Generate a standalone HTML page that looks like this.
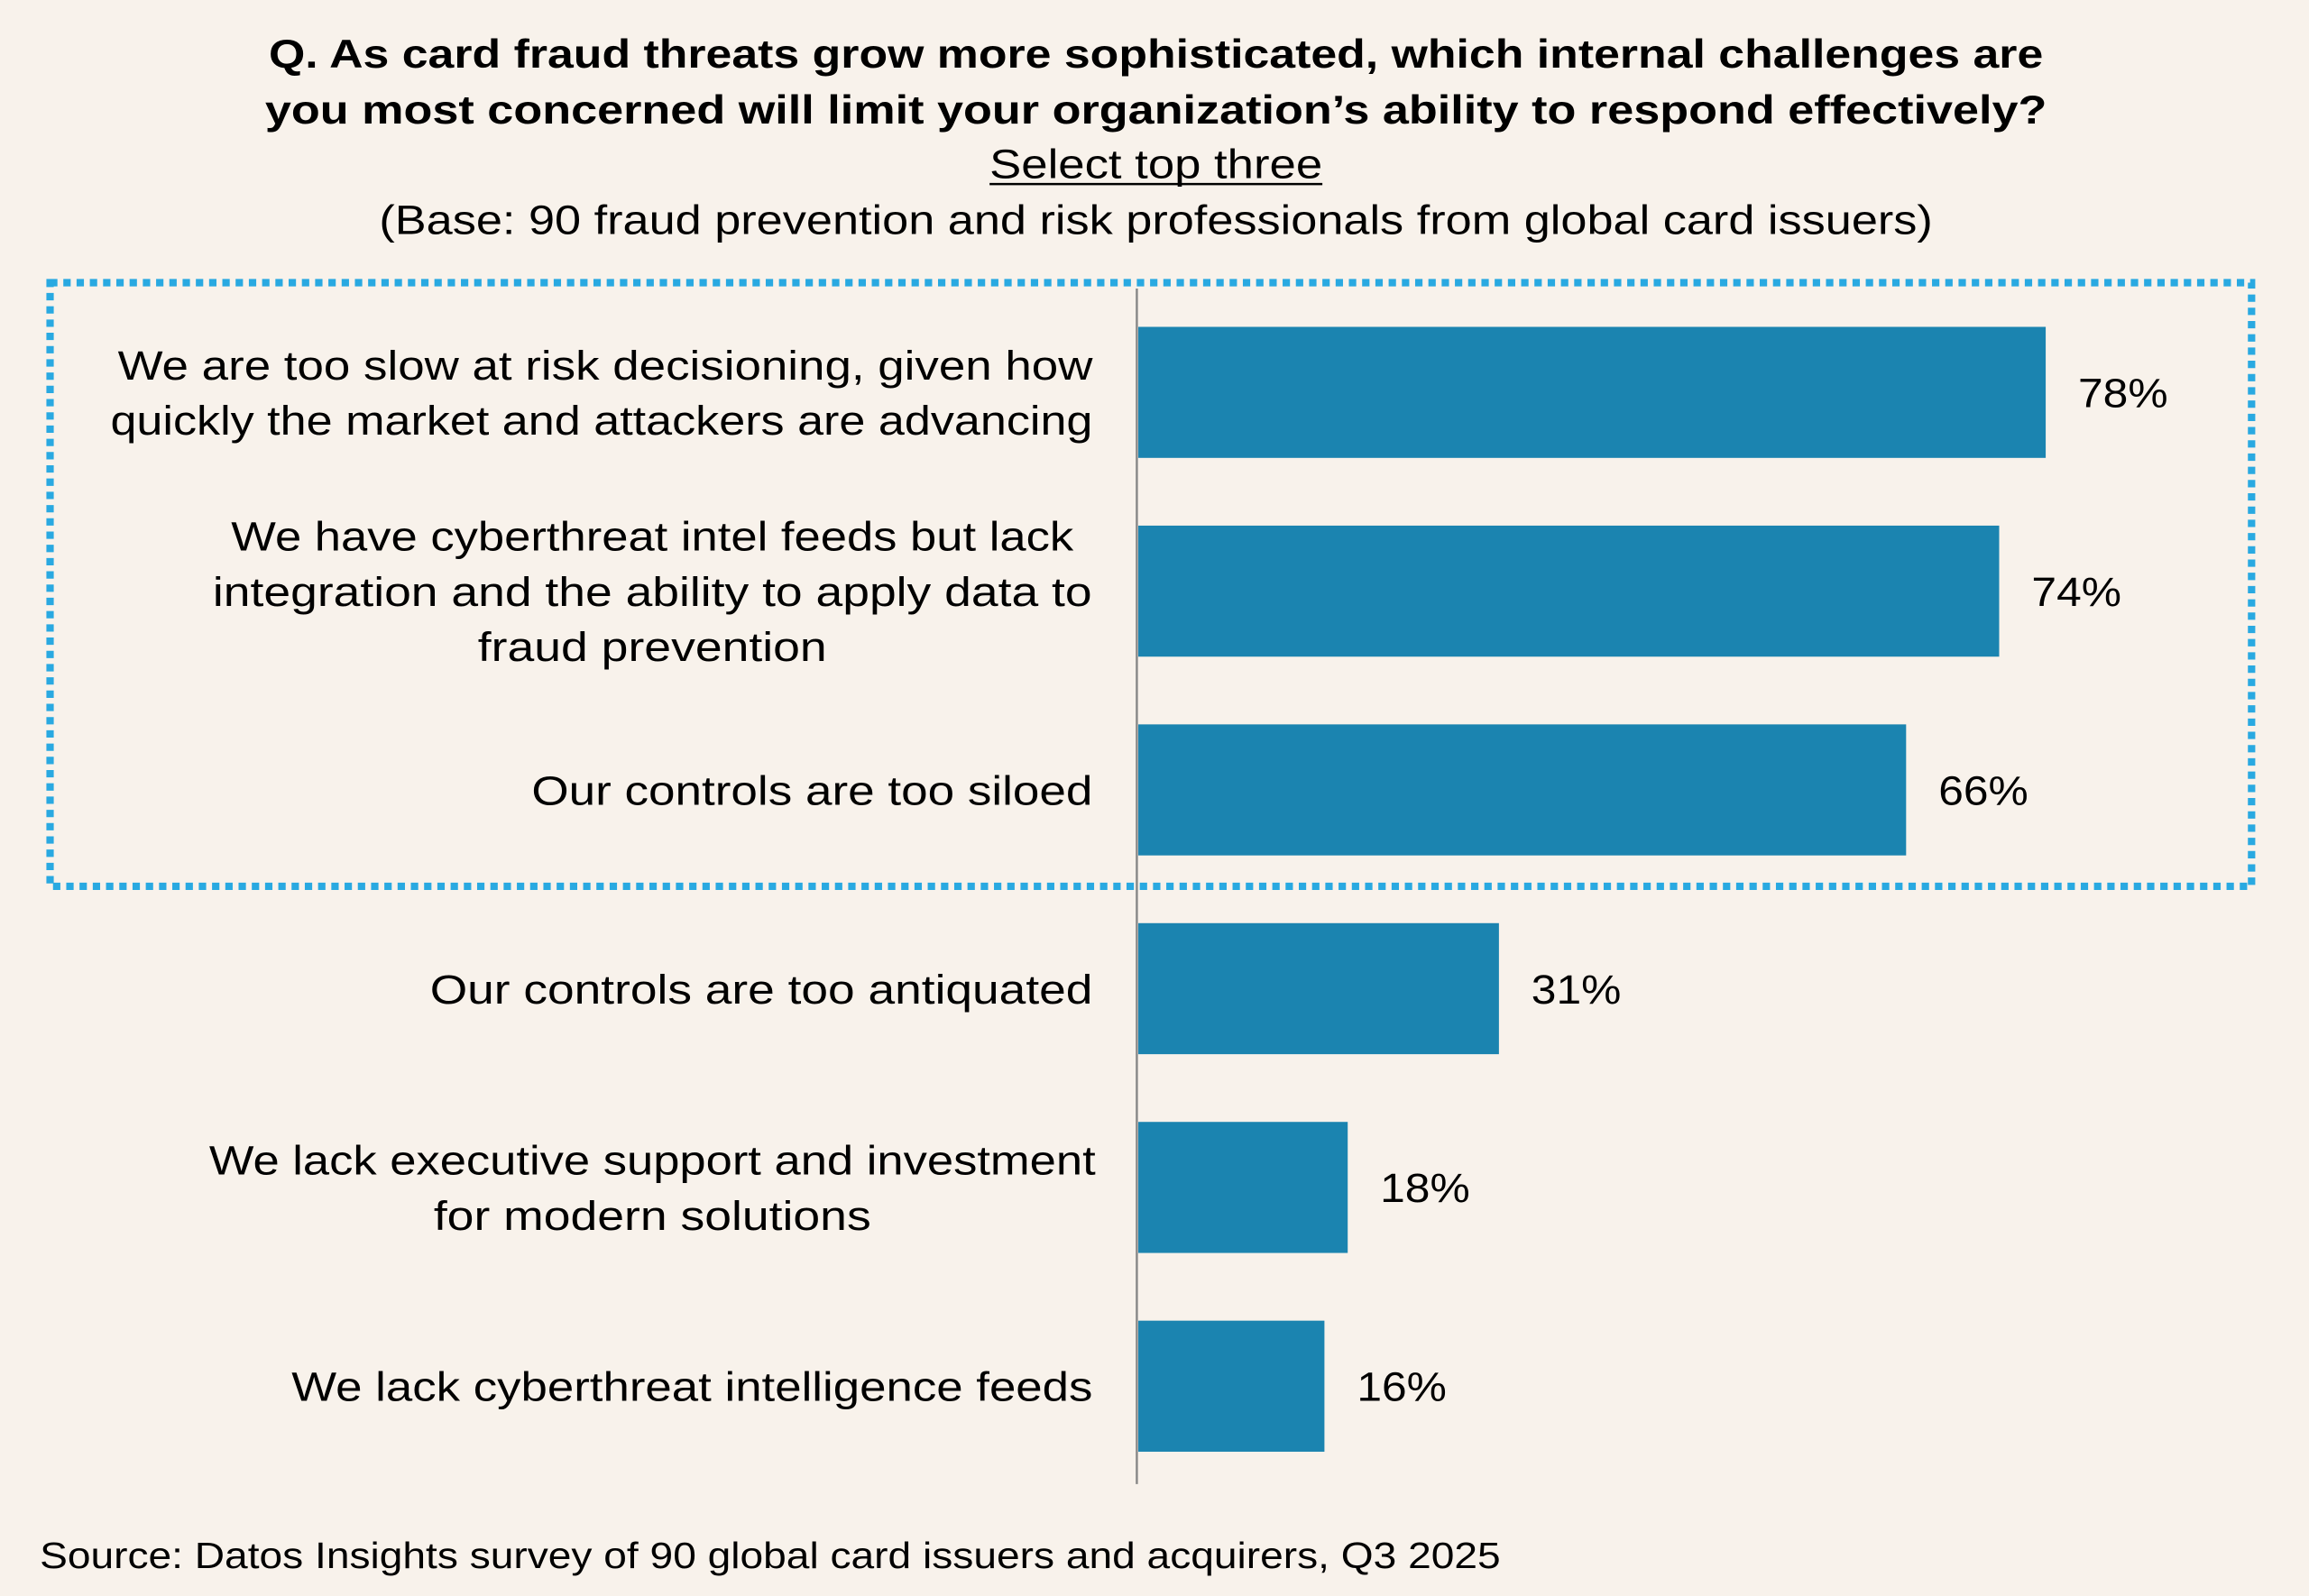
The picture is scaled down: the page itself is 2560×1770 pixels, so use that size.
<!DOCTYPE html>
<html><head><meta charset="utf-8"><style>
html,body{margin:0;padding:0;background:#f8f2eb;}
svg{display:block;font-family:"Liberation Sans",sans-serif;}
</style></head><body>
<svg id="chart" width="2560" height="1770" viewBox="0 0 1568 1084" preserveAspectRatio="none" xmlns="http://www.w3.org/2000/svg">
<rect x="0" y="0" width="1568" height="1084" fill="#f8f2eb"/>
<g text-anchor="middle" fill="#000">
<text x="785" y="46" font-size="27" font-weight="bold" textLength="1205" lengthAdjust="spacingAndGlyphs">Q. As card fraud threats grow more sophisticated, which internal challenges are</text>
<text x="785" y="84" font-size="27" font-weight="bold" textLength="1210" lengthAdjust="spacingAndGlyphs">you most concerned will limit your organization’s ability to respond effectively?</text>
<text x="785" y="121" font-size="28" textLength="226" lengthAdjust="spacingAndGlyphs">Select top three</text>
<line x1="672" y1="125" x2="898" y2="125" stroke="#000" stroke-width="1.5"/>
<text x="785" y="159" font-size="28" textLength="1055" lengthAdjust="spacingAndGlyphs">(Base: 90 fraud prevention and risk professionals from global card issuers)</text>
</g>
<rect x="34" y="192" width="1495" height="410" fill="none" stroke="#29a9e1" stroke-width="5" stroke-dasharray="5 4"/>
<g id="bars"></g>
<line x1="772" y1="196" x2="772" y2="1008" stroke="#888" stroke-width="1.5"/>
<text x="27" y="1065" font-size="25" fill="#000" textLength="992" lengthAdjust="spacingAndGlyphs">Source: Datos Insights survey of 90 global card issuers and acquirers, Q3 2025</text>
</svg>
<script>
const categories = [
  ["We are too slow at risk decisioning, given how","quickly the market and attackers are advancing"],
  ["We have cyberthreat intel feeds but lack","integration and the ability to apply data to","fraud prevention"],
  ["Our controls are too siloed"],
  ["Our controls are too antiquated"],
  ["We lack executive support and investment","for modern solutions"],
  ["We lack cyberthreat intelligence feeds"]
];
const values = [78, 74, 66, 31, 18, 16];
const valueLabels = ["78%","74%","66%","31%","18%","16%"];

// layout/styling (not data)
const lineWidths = [[662,667],[572,597,237],[381],[450],[602,297],[544]];
const centered = [false, true, false, false, true, false];

const NS = "http://www.w3.org/2000/svg";
const g = document.getElementById("bars");
const x0 = 773, pxPer = 7.9;
const xScale = v => x0 + v * pxPer;
const yBand = i => 222 + i * 135;
const bandH = 89;
values.forEach((v, i) => {
  const r = document.createElementNS(NS, "rect");
  r.setAttribute("x", x0);
  r.setAttribute("y", yBand(i));
  r.setAttribute("width", xScale(v) - x0);
  r.setAttribute("height", bandH);
  r.setAttribute("fill", "#1b84b0");
  
  
  g.appendChild(r);
  const t = document.createElementNS(NS, "text");
  t.setAttribute("x", xScale(v) + 22);
  t.setAttribute("y", yBand(i) + bandH / 2 + 10);
  t.setAttribute("font-size", "28");
  t.setAttribute("textLength", "61");
  t.setAttribute("lengthAdjust", "spacingAndGlyphs");
  t.textContent = valueLabels[i];
  
  
  g.appendChild(t);
  const lines = categories[i];
  const lh = 37.5;
  const cy = yBand(i) + bandH / 2;
  lines.forEach((ln, j) => {
    const c = document.createElementNS(NS, "text");
    if (centered[i]) { c.setAttribute("x", 443); c.setAttribute("text-anchor", "middle"); }
    else { c.setAttribute("x", 742); c.setAttribute("text-anchor", "end"); }
    c.setAttribute("y", cy + (j - (lines.length - 1) / 2) * lh + 10);
    c.setAttribute("font-size", "28");
    const w = (lineWidths[i] || [])[j];
    if (w) { c.setAttribute("textLength", w); c.setAttribute("lengthAdjust", "spacingAndGlyphs"); }
    c.textContent = ln;
    
    
    g.appendChild(c);
  });
});
</script>
</body></html>
